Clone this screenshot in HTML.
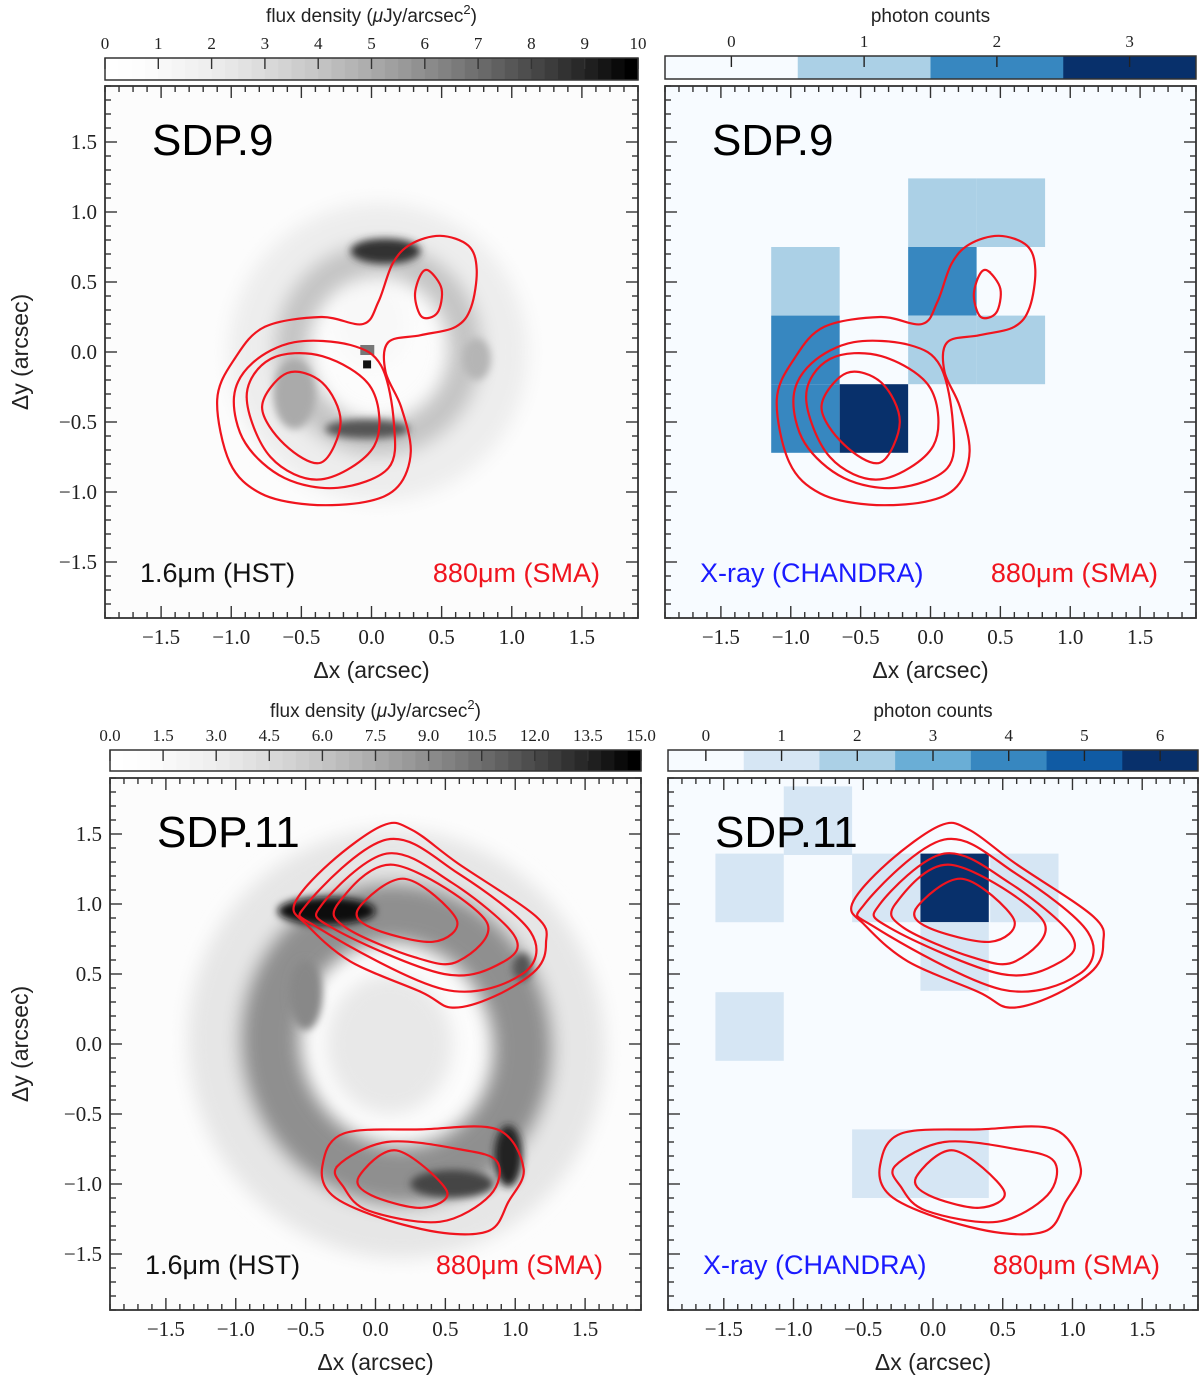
<!DOCTYPE html>
<html><head><meta charset="utf-8">
<style>
html,body{margin:0;padding:0;background:#fff;}
svg{display:block;}
.tk{font-family:"Liberation Serif",serif;font-size:21px;fill:#222;}
.ctk{font-family:"Liberation Serif",serif;font-size:17px;fill:#222;}
.lab{font-family:"Liberation Sans",sans-serif;font-size:23px;fill:#222;}
.clab{font-family:"Liberation Sans",sans-serif;font-size:19px;fill:#222;}
.ttl{font-family:"Liberation Sans",sans-serif;font-size:44px;fill:#000;}
.leg{font-family:"Liberation Sans",sans-serif;font-size:27px;}
</style></head>
<body>
<svg id="fig" width="1200" height="1378" viewBox="0 0 1200 1378" xmlns="http://www.w3.org/2000/svg">
<defs>
<filter id="blur8" x="-50%" y="-50%" width="200%" height="200%"><feGaussianBlur stdDeviation="9"/></filter>
<filter id="blur4" x="-50%" y="-50%" width="200%" height="200%"><feGaussianBlur stdDeviation="4"/></filter>
</defs>
</svg>
<script>
// ---------- data ----------
const blues4 = ['#f7fbff','#abd0e6','#3787c0','#08306b'];
const blues7 = ['#f7fbff','#d6e6f4','#abd0e6','#6aaed6','#3787c0','#105ba4','#08306b'];
const cellSize = 0.49;
// SDP.9 X-ray cells (left edge x, bottom edge y, counts)
const sdp9CellX = [-1.14,-1.14,-1.14,-0.65,-0.16,0.33,-0.16,-0.16,0.33];
const sdp9CellY = [0.26,-0.23,-0.72,-0.72,0.75,0.75,0.26,-0.23,-0.23];
const sdp9Counts = [1,2,2,3,1,1,2,1,1];
// SDP.11 X-ray cells
const sdp11CellX = [-1.56,-1.07,-1.56,-0.58,-0.09,0.41,-0.09,-0.58,-0.09];
const sdp11CellY = [0.87,1.35,-0.12,0.87,0.87,0.87,0.38,-1.10,-1.10];
const sdp11Counts = [1,1,1,1,6,1,1,1,1];
// SMA contours (arcsec)
const sdp9Contours = [
 [[-1.10,-0.34],[-0.97,-0.04],[-0.76,0.18],[-0.36,0.25],[-0.06,0.20],[0.05,0.36],[0.15,0.63],[0.28,0.77],[0.49,0.83],[0.69,0.76],[0.75,0.59],[0.71,0.32],[0.60,0.18],[0.35,0.12],[0.12,0.07],[0.10,-0.14],[0.21,-0.39],[0.28,-0.71],[0.19,-0.96],[-0.04,-1.07],[-0.44,-1.09],[-0.79,-1.01],[-1.01,-0.79]],
 [[-0.98,-0.32],[-0.85,-0.08],[-0.55,0.07],[-0.15,0.05],[0.07,-0.10],[0.16,-0.51],[0.12,-0.83],[-0.24,-0.97],[-0.62,-0.90],[-0.90,-0.65]],
 [[-0.89,-0.32],[-0.72,-0.05],[-0.35,-0.03],[0.0,-0.26],[0.02,-0.67],[-0.36,-0.91],[-0.72,-0.75]],
 [[-0.78,-0.39],[-0.60,-0.15],[-0.35,-0.22],[-0.22,-0.50],[-0.36,-0.79],[-0.62,-0.66]],
 [[0.41,0.58],[0.50,0.45],[0.47,0.28],[0.36,0.25],[0.31,0.40],[0.35,0.55]]
];
const sdp11Contours = [
 [[-0.58,1.0],[-0.33,1.29],[0.05,1.56],[0.26,1.53],[0.59,1.29],[1.15,0.91],[1.22,0.72],[1.15,0.53],[0.85,0.34],[0.55,0.26],[0.33,0.37],[-0.18,0.59],[-0.49,0.85]],
 [[-0.49,1.0],[0.08,1.46],[0.59,1.22],[1.11,0.80],[1.05,0.50],[0.49,0.39],[-0.41,0.83]],
 [[-0.38,1.0],[0.08,1.36],[0.55,1.15],[0.99,0.78],[0.92,0.59],[0.49,0.50],[-0.31,0.83]],
 [[-0.27,1.0],[0.13,1.28],[0.79,0.88],[0.59,0.59],[0.28,0.62],[-0.21,0.83]],
 [[-0.12,0.97],[0.21,1.18],[0.58,0.89],[0.41,0.73],[-0.03,0.83]],
 [[-0.38,-0.87],[-0.23,-0.64],[0.33,-0.61],[0.87,-0.61],[1.06,-0.89],[0.95,-1.13],[0.82,-1.33],[0.49,-1.35],[0.03,-1.24],[-0.31,-1.08]],
 [[-0.27,-0.87],[0.08,-0.70],[0.59,-0.75],[0.87,-0.84],[0.82,-1.08],[0.46,-1.27],[-0.05,-1.19],[-0.23,-1.02]],
 [[-0.12,-0.95],[0.15,-0.76],[0.51,-1.05],[0.33,-1.17],[-0.03,-1.08]]
];
const axisTicks = [-1.5,-1.0,-0.5,0.0,0.5,1.0,1.5];
const axisTickLabels = ['\u22121.5','\u22121.0','\u22120.5','0.0','0.5','1.0','1.5'];
const cbar9Ticks = [0,1,2,3,4,5,6,7,8,9,10];
const cbar11Ticks = ['0.0','1.5','3.0','4.5','6.0','7.5','9.0','10.5','12.0','13.5','15.0'];

// ---------- helpers ----------
const NS='http://www.w3.org/2000/svg';
const svg=document.getElementById('fig');
function mk(tag,attrs,parent){const e=document.createElementNS(NS,tag);for(const k in attrs)e.setAttribute(k,attrs[k]);(parent||svg).appendChild(e);return e;}
function smooth(pts){const n=pts.length;let d='M'+pts[0][0]+','+pts[0][1];
 for(let i=0;i<n;i++){const p0=pts[(i-1+n)%n],p1=pts[i],p2=pts[(i+1)%n],p3=pts[(i+2)%n];
  const c1=[p1[0]+(p2[0]-p0[0])/6,p1[1]+(p2[1]-p0[1])/6],c2=[p2[0]-(p3[0]-p1[0])/6,p2[1]-(p3[1]-p1[1])/6];
  d+=' C'+c1[0].toFixed(1)+','+c1[1].toFixed(1)+' '+c2[0].toFixed(1)+','+c2[1].toFixed(1)+' '+p2[0].toFixed(1)+','+p2[1].toFixed(1);}
 return d+'Z';}

function panel(P){
 const sx=v=>P.L+(v+1.9)/3.8*(P.R-P.L);
 const sy=v=>P.B-(v+1.9)/3.8*(P.B-P.T);
 const g=mk('g',{});
 
 
 const cid='clip-'+P.name;
 const cp=mk('clipPath',{id:cid},g);mk('rect',{x:P.L,y:P.T,width:P.R-P.L,height:P.B-P.T},cp);
 const bg=mk('rect',{x:P.L,y:P.T,width:P.R-P.L,height:P.B-P.T,fill:P.xray?blues4[0]:'#fcfcfc'},g);
 
 
 const img=mk('g',{'clip-path':'url(#'+cid+')'},g);
 
 
 if(P.xray){
  for(let i=0;i<P.cx.length;i++){
   const r=mk('rect',{x:sx(P.cx[i]),y:sy(P.cy[i]+cellSize),width:sx(P.cx[i]+cellSize)-sx(P.cx[i]),height:sy(P.cy[i])-sy(P.cy[i]+cellSize),fill:P.cmap[P.cnt[i]]},img);
   
   
  }
 } else P.drawImg(img,sx,sy);
 const cg=mk('g',{'clip-path':'url(#'+cid+')'},g);
 P.contours.forEach((c,i)=>{
  const p=mk('path',{d:smooth(c.map(q=>[sx(q[0]),sy(q[1])])),fill:'none',stroke:'#f0141e','stroke-width':2.2},cg);
  
  
 });
 const tg=mk('g',{stroke:'#333','stroke-width':1.4},g);
 
 
 for(let k=-19;k<=19;k++){const v=k/10;const maj=(k%5===0);const len=maj?12:6;
  const X=sx(v),Y=sy(v);
  mk('line',{x1:X,x2:X,y1:P.B,y2:P.B-len},tg);mk('line',{x1:X,x2:X,y1:P.T,y2:P.T+len},tg);
  mk('line',{x1:P.L,x2:P.L+len,y1:Y,y2:Y},tg);mk('line',{x1:P.R,x2:P.R-len,y1:Y,y2:Y},tg);}
 const fr=mk('rect',{x:P.L,y:P.T,width:P.R-P.L,height:P.B-P.T,fill:'none',stroke:'#333','stroke-width':1.8},g);
 
 
 axisTicks.forEach((v,i)=>{
  const t=mk('text',{x:sx(v),y:P.B+26,'text-anchor':'middle',class:'tk'},g);t.textContent=axisTickLabels[i];
  
  
  if(P.ylab){const u=mk('text',{x:P.L-8,y:sy(v)+7,'text-anchor':'end',class:'tk'},g);u.textContent=axisTickLabels[i];
   
   }
 });
 const xl=mk('text',{x:(P.L+P.R)/2,y:P.B+60,'text-anchor':'middle',class:'lab'},g);xl.textContent='\u0394x (arcsec)';
 
 
 if(P.ylab){const yc=(P.T+P.B)/2;const yl=mk('text',{x:0,y:0,'text-anchor':'middle',class:'lab',transform:'translate(28,'+yc+') rotate(-90)'},g);yl.textContent='\u0394y (arcsec)';
  
  }
 const tt=mk('text',{x:P.L+47,y:P.T+69,class:'ttl'},g);tt.textContent=P.title;
 
 
 const l1=mk('text',{x:P.L+35,y:P.B-36,class:'leg',fill:P.xray?'#1a1aff':'#111'},g);l1.textContent=P.xray?'X-ray (CHANDRA)':'1.6\u03bcm (HST)';
 
 
 const l2=mk('text',{x:P.R-38,y:P.B-36,'text-anchor':'end',class:'leg',fill:'#f0141e'},g);l2.textContent='880\u03bcm (SMA)';
 
 
}

function greyBar(L,R,T,B,labels,ty,name){
 const g=mk('g',{});
 
 
 const n=40;for(let i=0;i<n;i++){const c=Math.round(255*(1-Math.pow(i/(n-1),1.6)));
  mk('rect',{x:L+(R-L)*i/n,y:T,width:(R-L)/n+0.6,height:B-T,fill:'rgb('+c+','+c+','+c+')'},g);}
 mk('rect',{x:L,y:T,width:R-L,height:B-T,fill:'none',stroke:'#333','stroke-width':1.5},g);
 labels.forEach((l,i)=>{const X=L+(R-L)*i/(labels.length-1);
  mk('line',{x1:X,x2:X,y1:T,y2:T+11,stroke:'#333','stroke-width':1.4},g);
  const t=mk('text',{x:X,y:T-9,'text-anchor':'middle',class:'ctk'},g);t.textContent=l;});
 const t=mk('text',{x:(L+R)/2,y:ty,'text-anchor':'middle',class:'clab'},g);
 t.innerHTML='flux density (<tspan font-style="italic">\u03bc</tspan>Jy/arcsec<tspan dy="-8" font-size="13">2</tspan><tspan dy="8">)</tspan>';
}
function blueBar(L,R,T,B,cmap,ty,name){
 const g=mk('g',{});
 
 
 const n=cmap.length,w=(R-L)/n;
 cmap.forEach((c,i)=>{mk('rect',{x:L+i*w,y:T,width:w+0.5,height:B-T,fill:c},g);
  const X=L+(i+0.5)*w;mk('line',{x1:X,x2:X,y1:T,y2:T+11,stroke:'#222','stroke-width':1.4},g);
  const t=mk('text',{x:X,y:T-9,'text-anchor':'middle',class:'ctk'},g);t.textContent=String(i);});
 mk('rect',{x:L,y:T,width:R-L,height:B-T,fill:'none',stroke:'#333','stroke-width':1.5},g);
 const t=mk('text',{x:(L+R)/2,y:ty,'text-anchor':'middle',class:'clab'},g);t.textContent='photon counts';
}

function ell(par,sx,sy,cx,cy,rx,ry,attrs){const a=Object.assign({cx:sx(cx),cy:sy(cy),rx:Math.abs(sx(rx)-sx(0)),ry:Math.abs(sy(0)-sy(ry))},attrs);return mk('ellipse',a,par);}

function img9(g,sx,sy){
 const b=mk('g',{filter:'url(#blur8)'},g);
 ell(b,sx,sy,0.05,0.0,0.85,0.85,{fill:'none',stroke:'#ededed','stroke-width':60});
 ell(b,sx,sy,0.05,0.02,0.62,0.64,{fill:'none',stroke:'#c4c4c4','stroke-width':34});
 ell(b,sx,sy,0.0,0.2,0.25,0.3,{fill:'#f8f8f8'});
 const d=mk('g',{filter:'url(#blur4)'},g);
 ell(d,sx,sy,0.1,0.72,0.25,0.09,{fill:'#333'});
 ell(d,sx,sy,-0.03,-0.55,0.3,0.07,{fill:'#555'});
 ell(d,sx,sy,-0.55,-0.3,0.15,0.25,{fill:'#aaa'});
 ell(d,sx,sy,0.75,-0.05,0.1,0.15,{fill:'#b5b5b5'});
 mk('rect',{x:sx(-0.08),y:sy(0.05),width:14,height:10,fill:'#777'},g);
 mk('rect',{x:sx(-0.06),y:sy(-0.06),width:8,height:8,fill:'#111'},g);
}
function img11(g,sx,sy){
 const b=mk('g',{filter:'url(#blur8)'},g);
 ell(b,sx,sy,0.15,0.0,1.2,1.25,{fill:'none',stroke:'#e6e6e6','stroke-width':80,transform:'rotate(-20 '+sx(0.15)+' '+sy(0)+')'});
 ell(b,sx,sy,0.15,0.0,0.9,0.95,{fill:'none',stroke:'#8f8f8f','stroke-width':60,transform:'rotate(-20 '+sx(0.15)+' '+sy(0)+')'});
 ell(b,sx,sy,0.1,0.0,0.45,0.5,{fill:'#e8e8e8'});
 const d=mk('g',{filter:'url(#blur4)'},g);
 ell(d,sx,sy,-0.35,0.95,0.35,0.1,{fill:'#111'});
 ell(d,sx,sy,0.95,-0.8,0.1,0.22,{fill:'#222'});
 ell(d,sx,sy,0.55,-1.0,0.3,0.1,{fill:'#444'});
 ell(d,sx,sy,1.05,0.55,0.07,0.1,{fill:'#555'});
 ell(d,sx,sy,-0.5,0.35,0.12,0.25,{fill:'#888'});
}

// ---------- build ----------
greyBar(105,638,58,80,cbar9Ticks.map(String),22,'colorbar-flux-sdp9');
blueBar(665,1196,56,79,blues4,22,'colorbar-counts-sdp9');
greyBar(110,641,750,771,cbar11Ticks,717,'colorbar-flux-sdp11');
blueBar(668,1198,750,771,blues7,717,'colorbar-counts-sdp11');

panel({name:'panel-sdp9-hst',L:105,T:86,R:638,B:618,ylab:true,title:'SDP.9',contours:sdp9Contours,drawImg:img9});
panel({name:'panel-sdp9-xray',L:665,T:86,R:1196,B:618,xray:true,title:'SDP.9',contours:sdp9Contours,cx:sdp9CellX,cy:sdp9CellY,cnt:sdp9Counts,cmap:blues4});
panel({name:'panel-sdp11-hst',L:110,T:778,R:641,B:1310,ylab:true,title:'SDP.11',contours:sdp11Contours,drawImg:img11});
panel({name:'panel-sdp11-xray',L:668,T:778,R:1198,B:1310,xray:true,title:'SDP.11',contours:sdp11Contours,cx:sdp11CellX,cy:sdp11CellY,cnt:sdp11Counts,cmap:blues7});
</script>
</body></html>
